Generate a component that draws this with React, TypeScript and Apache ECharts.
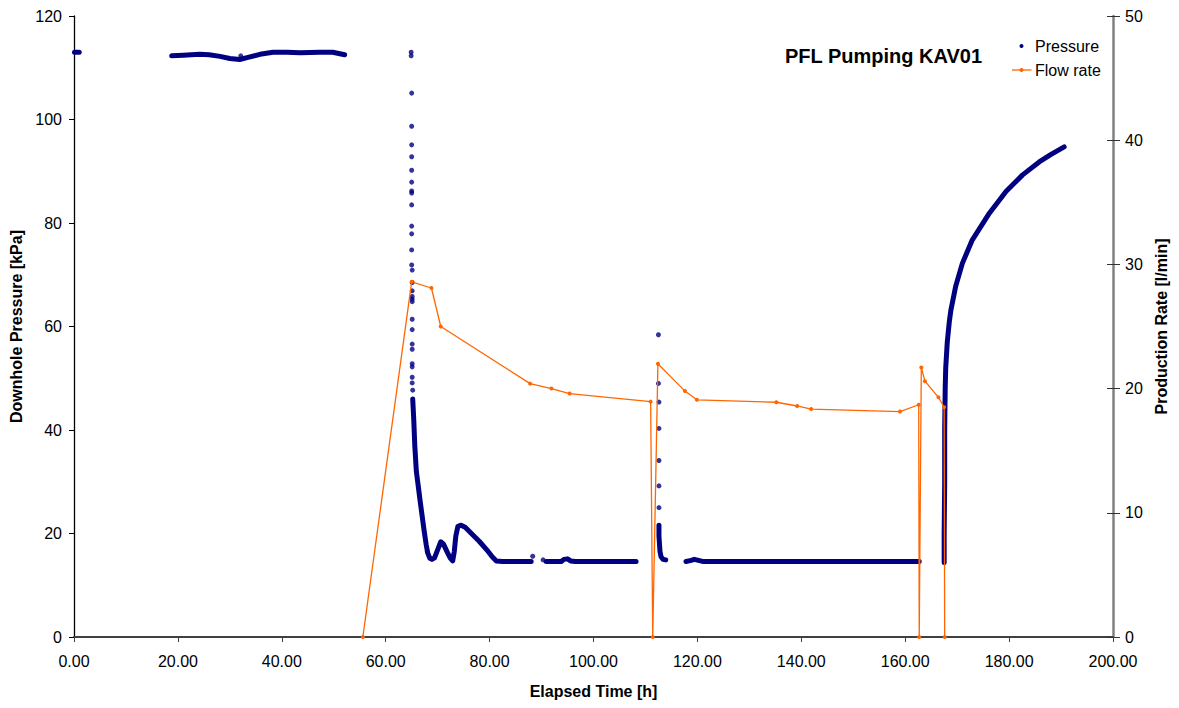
import React, { useEffect, useRef } from "react";
import * as echarts from "echarts";

// Downhole pressure logged as continuous traces (h, kPa); each inner list is one unbroken run.
const pressureTraces: number[][][] = [
  [[0.1, 113.0], [1.0, 113.0]],
  [
    [18.8, 112.3], [21.0, 112.4], [24.2, 112.6], [26.0, 112.5], [28.1, 112.2], [30.0, 111.8],
    [31.9, 111.6], [33.5, 112.0], [35.8, 112.6], [38.3, 113.0], [41.0, 113.0], [43.5, 112.9],
    [47.3, 113.0], [49.8, 113.0], [52.1, 112.5],
  ],
  [
    [65.2, 46.0], [65.4, 42.0], [65.6, 37.0], [65.9, 32.0], [66.2, 29.7], [66.6, 26.5],
    [67.0, 23.5], [67.4, 20.5], [67.8, 17.8], [68.1, 16.2], [68.5, 15.2], [68.9, 15.0],
    [69.4, 15.3], [69.9, 16.6], [70.6, 18.4], [71.1, 18.0], [71.8, 16.5], [72.4, 15.3],
    [72.9, 14.7], [73.2, 16.5], [73.5, 19.5], [73.9, 21.4], [74.5, 21.6], [75.3, 21.2],
    [76.5, 20.0], [78.0, 18.5], [79.5, 16.8], [80.5, 15.5], [81.3, 14.7], [82.5, 14.6],
    [88.0, 14.6],
  ],
  [
    [90.9, 14.6], [93.8, 14.6], [94.3, 15.0], [95.0, 15.1], [95.6, 14.7], [96.5, 14.6],
    [108.2, 14.6],
  ],
  [
    [112.6, 21.6], [112.6, 19.5], [112.7, 18.0], [112.8, 16.5], [113.0, 15.5], [113.4, 15.0],
    [113.9, 14.9],
  ],
  [
    [117.8, 14.6], [118.8, 14.8], [119.4, 15.0], [120.2, 14.8], [121.0, 14.6], [162.7, 14.6],
  ],
  [
    [167.5, 14.4], [167.5, 20.0], [167.6, 30.0], [167.6, 40.0], [167.7, 48.0], [167.8, 52.0],
    [168.1, 57.0], [168.5, 61.0], [168.8, 63.2], [169.7, 67.7], [171.0, 72.2], [172.9, 76.7],
    [176.2, 81.9], [179.4, 86.1], [182.6, 89.3], [185.8, 91.8], [188.0, 93.2], [190.6, 94.7],
  ],
];

// Isolated pressure samples (h, kPa) where the logger recorded sparse readings.
const pressureSamples: number[][] = [
  [32.1, 112.3],
  [64.9, 113.0], [64.9, 112.3], [65.0, 105.1], [65.0, 98.7], [65.0, 95.1], [65.0, 92.8],
  [65.0, 90.2], [65.0, 87.9], [65.0, 86.2], [65.0, 85.8], [65.0, 83.5], [65.0, 79.4],
  [65.0, 77.9], [65.0, 74.8], [65.0, 71.9], [65.1, 70.9], [65.1, 68.5], [65.1, 66.9],
  [65.1, 65.8], [65.1, 65.3], [65.1, 64.8], [65.1, 61.4], [65.1, 59.4], [65.1, 56.6],
  [65.1, 55.6], [65.1, 52.8], [65.1, 52.2], [65.1, 50.2], [65.1, 49.1], [65.2, 47.7],
  [68.0, 16.5], [88.3, 15.6], [90.3, 14.9],
  [112.5, 58.4], [112.5, 49.0], [112.6, 45.4], [112.6, 40.3], [112.6, 34.1], [112.6, 29.2],
  [112.6, 25.0],
];

// Production (flow) rate steps (h, l/min).
const flowRate: number[][] = [
  [55.6, 0], [65.0, 28.6], [68.8, 28.1], [70.6, 25.0], [87.8, 20.4], [91.9, 20.0],
  [95.4, 19.6], [111.0, 18.95], [111.4, 0], [112.4, 22.0], [117.6, 19.8], [119.9, 19.1],
  [135.2, 18.9], [139.2, 18.6], [141.9, 18.35], [159.0, 18.15], [162.6, 18.7], [162.7, 0],
  [163.1, 21.7], [163.8, 20.6], [166.4, 19.3], [167.5, 18.5], [167.6, 0],
];

const chartTitle = "PFL Pumping KAV01";
const legendNames = ["Pressure", "Flow rate"];

const FONT = "'Liberation Sans', Arial, sans-serif";
const NAVY = "#000080";
const ORANGE = "#FF6600";

export default function App() {
  const ref = useRef<HTMLDivElement | null>(null);

  useEffect(() => {
    if (!ref.current) return;
    const chart = echarts.init(ref.current, undefined, { renderer: "svg" });

    const traceSeries = pressureTraces.map((seg) => ({
      name: legendNames[0],
      type: "line",
      yAxisIndex: 0,
      data: seg,
      showSymbol: false,
      symbol: "none",
      silent: true,
      lineStyle: { color: NAVY, width: 5, cap: "round", join: "round" },
      z: 2,
    }));

    chart.setOption({
      animation: false,
      textStyle: { fontFamily: FONT },
      grid: { left: 74, right: 66, top: 16, bottom: 71, containLabel: false },
      xAxis: {
        type: "value",
        min: 0,
        max: 200,
        interval: 20,
        name: "Elapsed Time [h]",
        nameLocation: "middle",
        nameGap: 46,
        nameTextStyle: { fontFamily: FONT, fontSize: 16, fontWeight: "bold", color: "#000" },
        axisLine: { show: true, lineStyle: { color: "#404040", width: 2 } },
        axisTick: { show: true, length: 5, lineStyle: { color: "#404040" } },
        axisLabel: {
          fontFamily: FONT,
          fontSize: 16,
          color: "#000",
          margin: 16,
          formatter: (v: number) => v.toFixed(2),
        },
        splitLine: { show: false },
      },
      yAxis: [
        {
          type: "value",
          position: "left",
          min: 0,
          max: 120,
          interval: 20,
          name: "Downhole Pressure [kPa]",
          nameLocation: "middle",
          nameGap: 48,
          nameTextStyle: { fontFamily: FONT, fontSize: 16, fontWeight: "bold", color: "#000" },
          axisLine: { show: true, lineStyle: { color: "#000", width: 1.3 } },
          axisTick: { show: true, length: 5, lineStyle: { color: "#000" } },
          axisLabel: { fontFamily: FONT, fontSize: 16, color: "#000", margin: 12 },
          splitLine: { show: false },
        },
        {
          type: "value",
          position: "right",
          min: 0,
          max: 50,
          interval: 10,
          name: "Production Rate [l/min]",
          nameLocation: "middle",
          nameGap: 35,
          nameTextStyle: { fontFamily: FONT, fontSize: 16, fontWeight: "bold", color: "#000" },
          axisLine: { show: true, lineStyle: { color: "#808080", width: 2.5 } },
          axisTick: { show: true, length: 7, lineStyle: { color: "#333" } },
          axisLabel: { fontFamily: FONT, fontSize: 16, color: "#000", margin: 12 },
          splitLine: { show: false },
        },
        {
          // inner half of the crossing ticks on the right-hand axis
          type: "value",
          position: "right",
          min: 0,
          max: 50,
          interval: 10,
          axisLine: { show: false },
          axisTick: { show: true, inside: true, length: 6, lineStyle: { color: "#333" } },
          axisLabel: { show: false },
          splitLine: { show: false },
        },
      ],
      series: [
        ...traceSeries,
        {
          name: legendNames[0],
          type: "scatter",
          yAxisIndex: 0,
          data: pressureSamples,
          symbol: "circle",
          symbolSize: 5,
          silent: true,
          itemStyle: { color: NAVY },
          z: 2,
        },
        {
          name: legendNames[1],
          type: "line",
          yAxisIndex: 1,
          data: flowRate,
          symbol: "circle",
          symbolSize: 4,
          showSymbol: true,
          silent: true,
          itemStyle: { color: ORANGE },
          lineStyle: { color: ORANGE, width: 1.3 },
          z: 3,
        },
      ],
      graphic: [
        {
          type: "text",
          left: 785,
          top: 46,
          style: {
            text: chartTitle,
            font: `bold 20px ${FONT}`,
            fill: "#000",
          },
        },
        {
          type: "circle",
          shape: { cx: 1021.5, cy: 46, r: 2 },
          style: { fill: NAVY },
        },
        {
          type: "text",
          left: 1035,
          top: 38,
          style: { text: legendNames[0], font: `16px ${FONT}`, fill: "#000" },
        },
        {
          type: "line",
          shape: { x1: 1012, y1: 70, x2: 1031.5, y2: 70 },
          style: { stroke: ORANGE, lineWidth: 1.3 },
        },
        {
          type: "circle",
          shape: { cx: 1021.5, cy: 70, r: 2 },
          style: { fill: ORANGE },
        },
        {
          type: "text",
          left: 1035,
          top: 62,
          style: { text: legendNames[1], font: `16px ${FONT}`, fill: "#000" },
        },
      ],
    });

    return () => chart.dispose();
  }, []);

  return (
    <div
      ref={ref}
      style={{ position: "fixed", left: 0, top: 0, width: 1179, height: 708, background: "#fff" }}
    />
  );
}
